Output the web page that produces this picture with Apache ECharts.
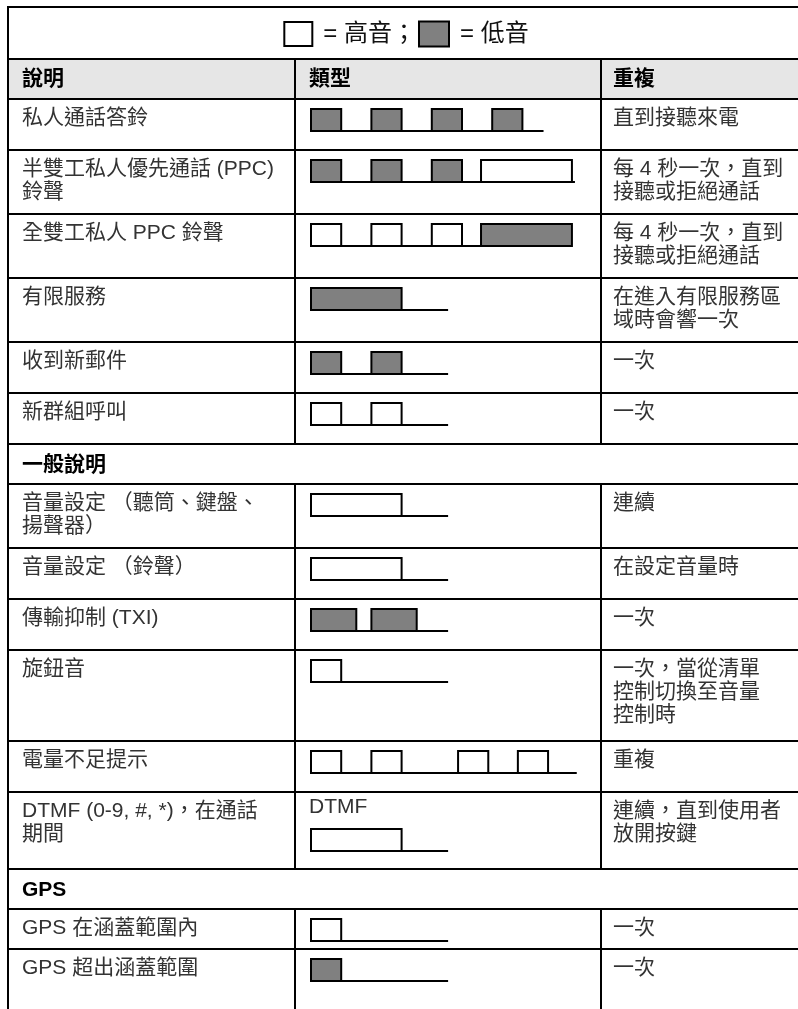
<!DOCTYPE html>
<html><head><meta charset="utf-8">
<script src="https://cdn.jsdelivr.net/npm/echarts@6/dist/echarts.min.js"></script>
<style>html,body{margin:0;padding:0;background:#fff}#c{width:798px;height:1009px}</style>
</head><body><div id="c"></div>
<script>
// ---------- DATA ----------
const legendLabels = ['= 高音；', '= 低音'];
const headers = ['說明', '類型', '重複'];
const rowTypes = ['item','item','item','item','item','item','section','item','item','item','item','item','item','section','item','item'];
const descriptions = [
  '私人通話答鈴',
  '半雙工私人優先通話 (PPC)\n鈴聲',
  '全雙工私人 PPC 鈴聲',
  '有限服務',
  '收到新郵件',
  '新群組呼叫',
  '一般說明',
  '音量設定 （聽筒、鍵盤、\n揚聲器）',
  '音量設定 （鈴聲）',
  '傳輸抑制 (TXI)',
  '旋鈕音',
  '電量不足提示',
  'DTMF (0-9, #, *)，在通話\n期間',
  'GPS',
  'GPS 在涵蓋範圍內',
  'GPS 超出涵蓋範圍'
];
const repeats = [
  '直到接聽來電',
  '每 4 秒一次，直到\n接聽或拒絕通話',
  '每 4 秒一次，直到\n接聽或拒絕通話',
  '在進入有限服務區\n域時會響一次',
  '一次',
  '一次',
  '',
  '連續',
  '在設定音量時',
  '一次',
  '一次，當從清單\n控制切換至音量\n控制時',
  '重複',
  '連續，直到使用者\n放開按鍵',
  '',
  '一次',
  '一次'
];
const typeLabels = ['', '', '', '', '', '', '', '', '', '', '', '', 'DTMF', '', '', ''];
// tone segments per row: [start, end, 'H' high / 'L' low], time in tone units
const toneSegments = [
  [[0,1,'L'],[2,3,'L'],[4,5,'L'],[6,7,'L']],
  [[0,1,'L'],[2,3,'L'],[4,5,'L'],[5.63,8.64,'H']],
  [[0,1,'H'],[2,3,'H'],[4,5,'H'],[5.63,8.64,'L']],
  [[0,3,'L']],
  [[0,1,'L'],[2,3,'L']],
  [[0,1,'H'],[2,3,'H']],
  [],
  [[0,3,'H']],
  [[0,3,'H']],
  [[0,1.5,'L'],[2,3.5,'L']],
  [[0,1,'H']],
  [[0,1,'H'],[2,3,'H'],[4.87,5.87,'H'],[6.85,7.85,'H']],
  [[0,3,'H']],
  [],
  [[0,1,'H']],
  [[0,1,'L']]
];
const toneTails = [7.7, 8.74, 8.64, 4.54, 4.54, 4.54, 0, 4.54, 4.54, 4.54, 4.54, 8.8, 4.54, 0, 4.54, 4.54];

// ---------- LAYOUT / STYLE ----------
const L = {
  W: 798, H: 1009, left: 8, col1: 295, col2: 601, top: 7,
  legendH: 52, headerH: 40,
  rowHeights: [51,64,64,64,51,51,40,64,51,51,91,51,77,40,40,62],
  toneLeft: 311, toneUnit: 30.2, toneH: 22, toneOff: 10, labeledToneOff: 37,
  pad1: 14, pad2: 14, pad3: 12, firstLine: 19, lineH: 23
};
const FONT = '"Liberation Sans", Arial, "Noto Sans CJK TC", sans-serif';
const FS = 21;
const TXT = '#333';
const GREY = '#808080';

const rowTops = [];
{ let y = L.top + L.legendH + L.headerH; L.rowHeights.forEach(h => { rowTops.push(y); y += h; }); }

function textEl(x, y, text, opt) {
  return { type: 'text', style: Object.assign({
    x, y, text, fill: TXT, font: FS + 'px ' + FONT, verticalAlign: 'middle', lineHeight: L.lineH
  }, opt || {}) };
}

function renderTable(params, api) {
  const idx = api.value(0);
  const ch = [];
  const line = (x1, y1, x2, y2) => {
    const a = api.coord([x1, y1]), b = api.coord([x2, y2]);
    ch.push({ type: 'line', shape: { x1: a[0], y1: a[1], x2: b[0], y2: b[1] }, style: { stroke: '#000', lineWidth: 2 } });
  };
  if (idx === -2) { // legend row
    const t = L.top, b = t + L.legendH;
    line(L.left, t, L.W, t);
    line(L.left, t - 1, L.left, b);
    const c = api.coord([407, (t + b) / 2 + 1]);
    ch.push({ type: 'text', style: {
      x: c[0], y: c[1], align: 'center', verticalAlign: 'middle',
      text: '{hi| }{sp| }{t|' + legendLabels[0] + '}{sp2| }{lo| }{sp| }{t|' + legendLabels[1] + '}',
      rich: {
        hi: { width: 26, height: 22, backgroundColor: '#fff', borderColor: '#000', borderWidth: 2 },
        lo: { width: 28, height: 23, backgroundColor: GREY, borderColor: '#000', borderWidth: 2 },
        sp: { width: 12 },
        sp2: { width: 4 },
        t: { font: '24px ' + FONT, fill: '#111' }
      }
    }});
    return { type: 'group', children: ch };
  }
  if (idx === -1) { // header row
    const t = L.top + L.legendH, b = t + L.headerH;
    const p0 = api.coord([L.left, t]), p1 = api.coord([L.W, b]);
    ch.push({ type: 'rect', shape: { x: p0[0], y: p0[1], width: p1[0] - p0[0], height: p1[1] - p0[1] }, style: { fill: '#e6e6e6' } });
    line(L.left, t, L.W, t);
    line(L.left, t, L.left, b); line(L.col1, t, L.col1, b); line(L.col2, t, L.col2, b);
    const xs = [L.left + L.pad1, L.col1 + L.pad2, L.col2 + L.pad3];
    headers.forEach((h, i) => {
      const c = api.coord([xs[i], t + 20]);
      ch.push(textEl(c[0], c[1], h, { fill: '#000', font: 'bold ' + FS + 'px ' + FONT }));
    });
    return { type: 'group', children: ch };
  }
  const t = rowTops[idx], b = t + L.rowHeights[idx];
  line(L.left, t, L.W, t);
  line(L.left, t, L.left, b);
  if (rowTypes[idx] === 'section') {
    const c = api.coord([L.left + L.pad1, t + 21]);
    ch.push(textEl(c[0], c[1], descriptions[idx], { fill: '#000', font: 'bold ' + FS + 'px ' + FONT }));
  } else {
    line(L.col1, t, L.col1, b); line(L.col2, t, L.col2, b);
    let c = api.coord([L.left + L.pad1, t + L.firstLine]);
    ch.push(textEl(c[0], c[1], descriptions[idx], { verticalAlign: 'top', y: c[1] - L.lineH / 2 }));
    c = api.coord([L.col2 + L.pad3, t + L.firstLine]);
    ch.push(textEl(c[0], c[1], repeats[idx], { verticalAlign: 'top', y: c[1] - L.lineH / 2 }));
    if (typeLabels[idx]) {
      c = api.coord([L.col1 + L.pad2, t + 15]);
      ch.push(textEl(c[0], c[1], typeLabels[idx]));
    }
  }
  return { type: 'group', children: ch };
}

function toneTop(row) { return rowTops[row] + (typeLabels[row] ? L.labeledToneOff : L.toneOff); }

const toneData = [];
toneSegments.forEach((segs, row) => segs.forEach(s => toneData.push([s[0], s[1], s[2] === 'L' ? 0 : 1, row])));
const baseData = [];
toneTails.forEach((tail, row) => { if (tail > 0) baseData.push([0, tail, row]); });

function renderTone(params, api) {
  const row = api.value(3), top = toneTop(row);
  const a = api.coord([api.value(0), top]), b = api.coord([api.value(1), top + L.toneH]);
  return { type: 'rect', shape: { x: a[0], y: a[1], width: b[0] - a[0], height: b[1] - a[1] },
    style: { fill: api.value(2) === 0 ? GREY : '#fff', stroke: '#000', lineWidth: 2 } };
}
function renderBase(params, api) {
  const row = api.value(2), y = toneTop(row) + L.toneH;
  const a = api.coord([api.value(0), y]), b = api.coord([api.value(1), y]);
  return { type: 'line', shape: { x1: a[0], y1: a[1], x2: b[0], y2: b[1] }, style: { stroke: '#000', lineWidth: 2 } };
}

const tableData = [[-2], [-1]].concat(rowTypes.map((_, i) => [i]));
const toneSpan = (L.W - L.toneLeft) / L.toneUnit;

const chart = echarts.init(document.getElementById('c'), null, { renderer: 'canvas' });
chart.setOption({
  animation: false,
  grid: [
    { left: 0, top: 0, right: 0, bottom: 0 },
    { left: L.toneLeft, top: 0, right: 0, bottom: 0 }
  ],
  xAxis: [
    { type: 'value', gridIndex: 0, min: 0, max: L.W, show: false },
    { type: 'value', gridIndex: 1, min: 0, max: toneSpan, show: false }
  ],
  yAxis: [
    { type: 'value', gridIndex: 0, min: 0, max: L.H, inverse: true, show: false },
    { type: 'value', gridIndex: 1, min: 0, max: L.H, inverse: true, show: false }
  ],
  series: [
    { type: 'custom', xAxisIndex: 0, yAxisIndex: 0, data: tableData, renderItem: renderTable, silent: true },
    { type: 'custom', xAxisIndex: 1, yAxisIndex: 1, data: baseData, renderItem: renderBase, silent: true, z: 3 },
    { type: 'custom', xAxisIndex: 1, yAxisIndex: 1, data: toneData, renderItem: renderTone, silent: true, z: 4 }
  ]
});
</script></body></html>
